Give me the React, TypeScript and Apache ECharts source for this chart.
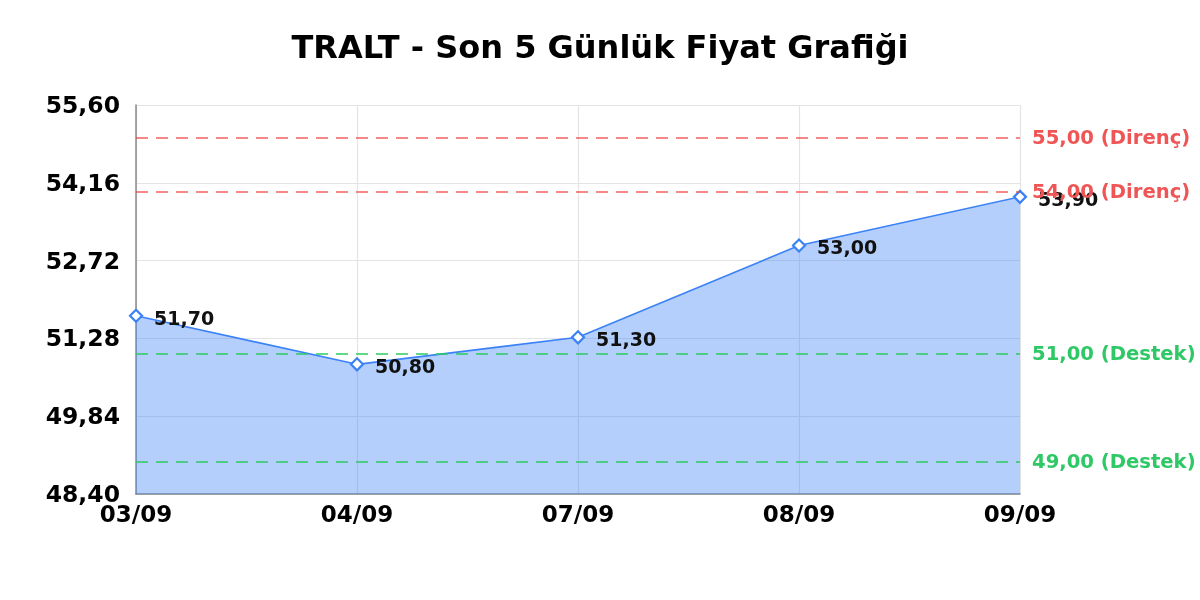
import React, { useEffect, useRef } from "react";
import * as echarts from "echarts";

const categories = ["03/09", "04/09", "07/09", "08/09", "09/09"];
const prices = [51.7, 50.8, 51.3, 53.0, 53.9];
const resistanceLevels = [55, 54];
const supportLevels = [51, 49];
const yMin = 48.4;
const yMax = 55.6;
const yInterval = 1.44;

const fmt = (v: number) => v.toFixed(2).replace(".", ",");

export default function App() {
  const ref = useRef<HTMLDivElement>(null);
  useEffect(() => {
    if (!ref.current) return;
    const chart = echarts.init(ref.current, undefined, { renderer: "svg" });
    const font = "DejaVu Sans";
    const markData: any[] = [
      ...resistanceLevels.map((v) => ({
        yAxis: v,
        lineStyle: { color: "rgba(239,68,68,0.85)", type: [12, 8], width: 1.5 },
        label: { color: "#ef5555", formatter: () => `${fmt(v)} (Direnç)` },
      })),
      ...supportLevels.map((v) => ({
        yAxis: v,
        lineStyle: { color: "#2ecc62", type: [12, 8], width: 1.5 },
        label: { color: "#2ec866", formatter: () => `${fmt(v)} (Destek)` },
      })),
    ];
    chart.setOption({
      animation: false,
      textStyle: { fontFamily: font },
      title: {
        text: "TRALT - Son 5 Günlük Fiyat Grafiği",
        left: "center",
        top: 26,
        textStyle: { fontFamily: font, fontSize: 32, fontWeight: "bold", color: "#000" },
      },
      grid: { left: 136, right: 180, top: 105, bottom: 106, containLabel: false },
      xAxis: {
        type: "category",
        data: categories,
        boundaryGap: false,
        axisLine: { lineStyle: { color: "#888", width: 1.5 } },
        axisTick: { show: false },
        axisLabel: { fontFamily: font, fontSize: 23, fontWeight: "bold", color: "#000", margin: 8 },
        splitLine: { show: true, lineStyle: { color: "#e4e4e4", width: 1.2 } },
      },
      yAxis: {
        type: "value",
        min: yMin,
        max: yMax,
        interval: yInterval,
        axisLine: { show: true, lineStyle: { color: "#888", width: 1.5 } },
        axisTick: { show: false },
        axisLabel: {
          fontFamily: font,
          fontSize: 23.5,
          fontWeight: "bold",
          color: "#000",
          margin: 16,
          formatter: (v: number) => fmt(v),
        },
        splitLine: { show: true, lineStyle: { color: "#e4e4e4", width: 1.2 } },
      },
      series: [
        {
          type: "line",
          data: prices,
          symbol: "none",
          lineStyle: { color: "#3b82f6", width: 1.6 },
          areaStyle: { color: "rgba(59,130,246,0.38)", opacity: 1, origin: "start" },
          z: 2,
        },
        {
          type: "line",
          data: [],
          z: 3,
          markLine: {
            silent: true,
            symbol: ["none", "none"],
            label: {
              show: true,
              position: "end",
              distance: 12,
              fontFamily: font,
              fontSize: 19.6,
              fontWeight: "bold",
            },
            data: markData,
          },
        },
        {
          type: "line",
          data: prices,
          symbol: "diamond",
          symbolSize: 12,
          showAllSymbol: true,
          lineStyle: { width: 0, opacity: 0 },
          itemStyle: { color: "#ffffff", borderColor: "#3b82f6", borderWidth: 2.2 },
          label: {
            show: true,
            position: "right",
            distance: 11,
            offset: [0, 2],
            fontFamily: font,
            fontSize: 19,
            fontWeight: "bold",
            color: "#111",
            formatter: (p: any) => fmt(p.value),
          },
          z: 4,
        },
      ],
    });
    return () => chart.dispose();
  }, []);
  return (
    <div
      ref={ref}
      style={{ position: "fixed", left: 0, top: 0, width: 1200, height: 600 }}
    />
  );
}
